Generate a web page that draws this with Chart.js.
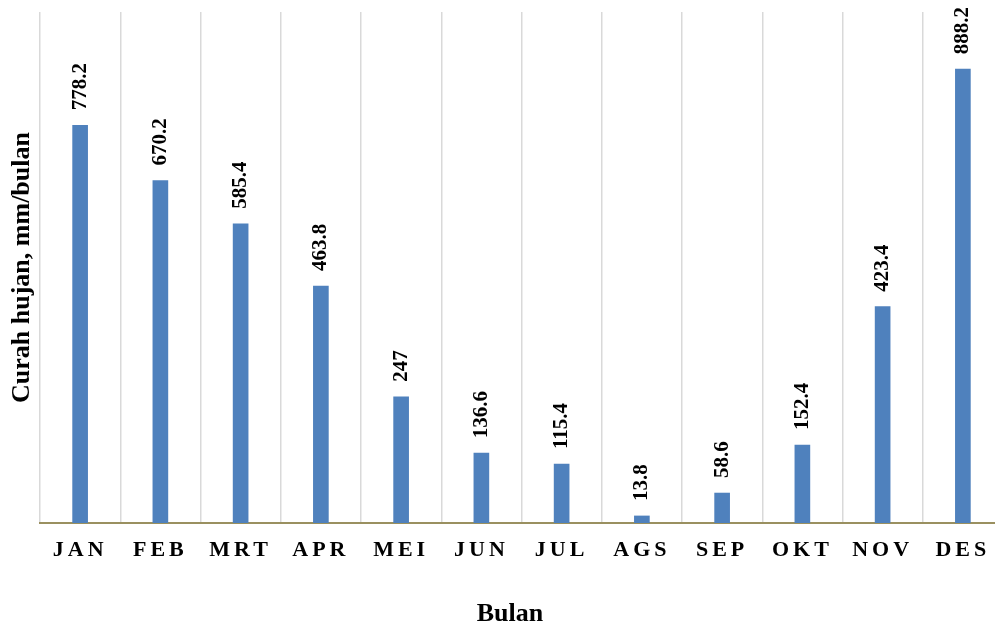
<!DOCTYPE html>
<html>
<head>
<meta charset="utf-8">
<script src="https://cdn.jsdelivr.net/npm/chart.js@4.4.1/dist/chart.umd.min.js"></script>
<style>
  html, body { margin: 0; padding: 0; background: #ffffff; overflow: hidden; }
  #wrap { position: relative; width: 1003px; height: 628px; }
</style>
</head>
<body>
<div id="wrap"><canvas id="c"></canvas></div>
<script>
// ---- data ----
const months = ['JAN','FEB','MRT','APR','MEI','JUN','JUL','AGS','SEP','OKT','NOV','DES'];
const rainfall = [778.2, 670.2, 585.4, 463.8, 247, 136.6, 115.4, 13.8, 58.6, 152.4, 423.4, 888.2];
const valueLabels = ['778.2','670.2','585.4','463.8','247','136.6','115.4','13.8','58.6','152.4','423.4','888.2'];
const yTitle = 'Curah hujan, mm/bulan';
const xTitle = 'Bulan';

const SERIF = '"Liberation Serif", "Times New Roman", serif';

const valueLabelPlugin = {
  id: 'valueLabels',
  afterDatasetsDraw(chart) {
    const ctx = chart.ctx;
    const meta = chart.getDatasetMeta(0);
    ctx.save();
    ctx.fillStyle = '#000000';
    ctx.font = 'bold 21px ' + SERIF;
    ctx.textAlign = 'left';
    ctx.textBaseline = 'middle';
    meta.data.forEach((bar, i) => {
      ctx.save();
      ctx.translate(bar.x, bar.y - 15);
      ctx.rotate(-Math.PI / 2);
      ctx.fillText(valueLabels[i], 0, 0);
      ctx.restore();
    });
    ctx.restore();
  }
};

const xTextPlugin = {
  id: 'xTexts',
  afterDraw(chart) {
    const ctx = chart.ctx;
    const xs = chart.scales.x;
    ctx.save();
    ctx.fillStyle = '#000000';
    ctx.font = 'bold 22px ' + SERIF;
    ctx.textAlign = 'center';
    ctx.textBaseline = 'middle';
    try { ctx.letterSpacing = '4px'; } catch (e) {}
    months.forEach((m, i) => {
      ctx.fillText(m, xs.getPixelForValue(i), 550);
    });
    try { ctx.letterSpacing = '0px'; } catch (e) {}
    // axis title, centred on the visible page width
    ctx.font = 'bold 26px ' + SERIF;
    ctx.fillText(xTitle, 510, 614);
    ctx.restore();
  }
};

new Chart(document.getElementById('c'), {
  type: 'bar',
  data: {
    labels: months,
    datasets: [{
      data: rainfall,
      backgroundColor: '#4f81bd',
      borderWidth: 0,
      barThickness: 15
    }]
  },
  options: {
    responsive: true,
    maintainAspectRatio: false,
    animation: false,
    layout: { padding: { top: 12, left: 0, right: 0, bottom: 0 } },
    plugins: {
      legend: { display: false },
      tooltip: { enabled: false }
    },
    scales: {
      x: {
        offset: true,
        grid: {
          display: true,
          offset: true,
          color: '#d9d9d9',
          lineWidth: 1.5,
          drawTicks: false
        },
        border: { display: true, color: '#9a9060', width: 2 },
        ticks: { display: false },
        title: { display: false },
        afterFit(scale) { scale.height = 105; }
      },
      y: {
        min: 0,
        max: 1000,
        grid: { display: false, drawTicks: false },
        border: { display: false },
        ticks: { display: false },
        title: {
          display: true,
          text: yTitle,
          color: '#000000',
          font: { family: SERIF, size: 26, weight: 'bold' },
          padding: { top: 7, bottom: 0 }
        },
        afterFit(scale) { scale.width = 40; }
      }
    }
  },
  plugins: [valueLabelPlugin, xTextPlugin]
});
</script>
</body>
</html>
